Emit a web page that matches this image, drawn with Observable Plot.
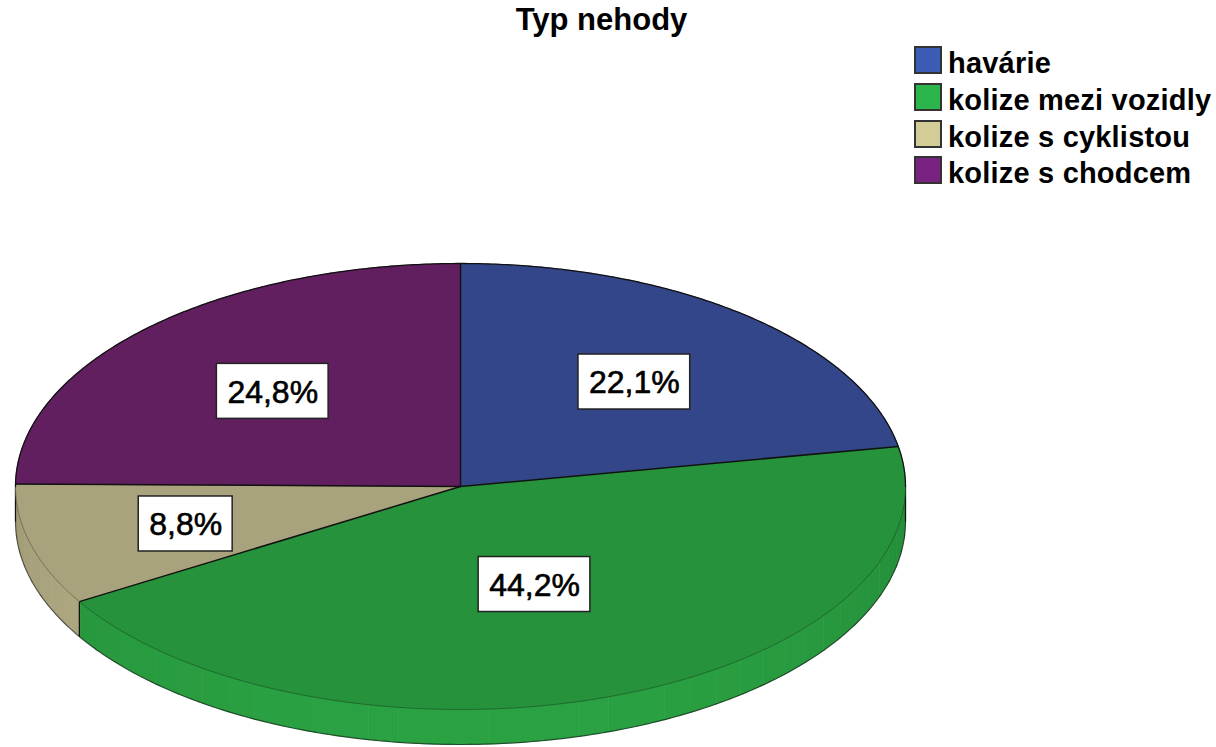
<!DOCTYPE html>
<html>
<head>
<meta charset="utf-8">
<script src="https://cdn.jsdelivr.net/npm/d3@7"></script>
<script src="https://cdn.jsdelivr.net/npm/@observablehq/plot@0.6"></script>
<style>
  html, body { margin: 0; padding: 0; background: #fff; }
  #wrap { position: relative; width: 1216px; height: 747px; overflow: hidden; font-family: "Liberation Sans", Arial, sans-serif; }
  #chart { position: absolute; left: 0; top: 0; }
  #title { position: absolute; left: 0; width: 1203px; top: 2px; text-align: center; font-weight: bold; font-size: 31px; line-height: 36px; color: #000; }
  .sw { position: absolute; left: 914px; width: 28px; height: 28px; box-sizing: border-box; border: 2px solid #333; }
  .lt { position: absolute; left: 948px; font-weight: bold; font-size: 29px; line-height: 29px; letter-spacing: 0.2px; color: #000; white-space: nowrap; }
</style>
</head>
<body>
<div id="wrap">
  <div id="chart"></div>
  <div id="title"></div>
  <div id="legend"></div>
</div>
<script>
// ---- data ----
const title = "Typ nehody";
const categories = ["havárie", "kolize mezi vozidly", "kolize s cyklistou", "kolize s chodcem"];
const percents = [22.1, 44.2, 8.8, 24.8];
const percentLabels = ["22,1%", "44,2%", "8,8%", "24,8%"];
const topColors = ["#33468a", "#26933c", "#a8a37c", "#621f60"];
const legendColors = ["#3b5bb5", "#2bb54a", "#d3cc97", "#7a2282"];

// ---- layout ----
const W = 1216, H = 747;
const CX = 460, CY = 486, RX = 445, RY = 223, DEPTH = 35;
const dz = DEPTH / RY;
const labelK = [0.61, 0.47, 0.64, 0.60];
const LABEL_FONT = 32;

const total = d3.sum(percents);
let acc = 0;
const slices = categories.map((c, i) => {
  const a0 = acc / total * 360; acc += percents[i];
  const a1 = acc / total * 360;
  return {c, i, a0, a1, color: topColors[i]};
});
const rad = d => d * Math.PI / 180;
const pt = (deg, k = 1, z = 0) => ({x: k * Math.sin(rad(deg)), y: k * Math.cos(rad(deg)) - z});
function arc(a0, a1, z = 0, step = 0.5) {
  const n = Math.max(2, Math.ceil(Math.abs(a1 - a0) / step));
  return d3.range(n + 1).map(j => pt(a0 + (a1 - a0) * j / n, 1, z));
}

// top faces
const topPts = slices.flatMap(s =>
  [{x: 0, y: 0}, ...arc(s.a0, s.a1), {x: 0, y: 0}].map(p => ({...p, id: s.c, fill: s.color})));

// side strips (visible front half 90..270 deg)
function shade(col, deg) {
  const f = 0.95 + 0.15 * Math.cos(rad(deg - 180));
  const c = d3.rgb(col);
  return d3.rgb(Math.min(255, c.r * f), Math.min(255, c.g * f), Math.min(255, c.b * f)).formatHex();
}
const sidePts = [];
const sideEdges = [];
slices.forEach(s => {
  const lo = Math.max(s.a0, 90), hi = Math.min(s.a1, 270);
  if (hi <= lo) return;
  const n = Math.ceil((hi - lo) / 4);
  for (let j = 0; j < n; j++) {
    const b0 = lo + (hi - lo) * j / n, b1 = lo + (hi - lo) * (j + 1) / n;
    const col = shade(s.color, (b0 + b1) / 2);
    const id = s.c + "-" + j;
    [pt(b0), pt(b1), pt(b1, 1, dz), pt(b0, 1, dz)].forEach(p => sidePts.push({...p, id, fill: col}));
  }
});
const vAngles = [90, 270, ...slices.map(s => s.a1).filter(a => a > 90 && a < 270)];
vAngles.forEach(a => { const t = pt(a), b = pt(a, 1, dz); sideEdges.push({x1: t.x, y1: t.y, x2: b.x, y2: b.y}); });

// radial lines
const radials = [0, ...slices.map(s => s.a1)].slice(0, slices.length).map(a => { const p = pt(a); return {x1: 0, y1: 0, x2: p.x, y2: p.y}; });

const backArc = arc(-90, 90);
const frontArc = arc(90, 270);
const bottomArc = arc(90, 270, dz);

// labels
const ctx = document.createElement("canvas").getContext("2d");
ctx.font = `${LABEL_FONT}px "Liberation Sans", Arial, sans-serif`;
const labels = slices.map((s, i) => {
  const m = (s.a0 + s.a1) / 2;
  const p = pt(m, labelK[i]);
  const w = ctx.measureText(percentLabels[i]).width + 21;
  const h = 55;
  return {x: p.x, y: p.y, text: percentLabels[i],
    x1: p.x - w / 2 / RX, x2: p.x + w / 2 / RX, y1: p.y - h / 2 / RY, y2: p.y + h / 2 / RY};
});

const chart = Plot.plot({
  width: W, height: H,
  marginTop: 0, marginRight: 0, marginBottom: 0, marginLeft: 0,
  x: {domain: [-1, 1], range: [CX - RX, CX + RX], axis: null},
  y: {domain: [-1, 1], range: [CY + RY, CY - RY], axis: null},
  color: {type: "identity"},
  style: {background: "transparent", overflow: "visible"},
  marks: [
    Plot.line(sidePts, {x: "x", y: "y", z: "id", fill: "fill", stroke: "fill", strokeWidth: 0.8, curve: "linear-closed"}),
    Plot.line(bottomArc, {x: "x", y: "y", stroke: "#000", strokeOpacity: 0.55, strokeWidth: 1.2}),
    Plot.link(sideEdges, {x1: "x1", y1: "y1", x2: "x2", y2: "y2", stroke: "#111", strokeWidth: 1.3}),
    Plot.line(topPts, {x: "x", y: "y", z: "id", fill: "fill", stroke: "fill", strokeWidth: 0.6, curve: "linear"}),
    Plot.line(frontArc, {x: "x", y: "y", stroke: "#000", strokeOpacity: 0.3, strokeWidth: 1}),
    Plot.line(backArc, {x: "x", y: "y", stroke: "#111", strokeWidth: 1.3}),
    Plot.link(radials, {x1: "x1", y1: "y1", x2: "x2", y2: "y2", stroke: "#111", strokeWidth: 1.5}),
    Plot.rect(labels, {x1: "x1", x2: "x2", y1: "y1", y2: "y2", fill: "#fff", stroke: "#222", strokeWidth: 1.5}),
    Plot.text(labels, {x: "x", y: "y", text: "text", fontSize: LABEL_FONT, fill: "#000",
      stroke: "#000", strokeWidth: 0.6,
      fontFamily: '"Liberation Sans", Arial, sans-serif', dy: 1})
  ]
});
document.getElementById("chart").appendChild(chart);
document.getElementById("title").textContent = title;

const leg = document.getElementById("legend");
categories.forEach((c, i) => {
  const top = 46 + 36.8 * i;
  const sw = document.createElement("div");
  sw.className = "sw"; sw.style.top = top + "px"; sw.style.background = legendColors[i];
  const t = document.createElement("div");
  t.className = "lt"; t.style.top = (top + 3) + "px"; t.textContent = c;
  leg.appendChild(sw); leg.appendChild(t);
});
</script>
</body>
</html>
